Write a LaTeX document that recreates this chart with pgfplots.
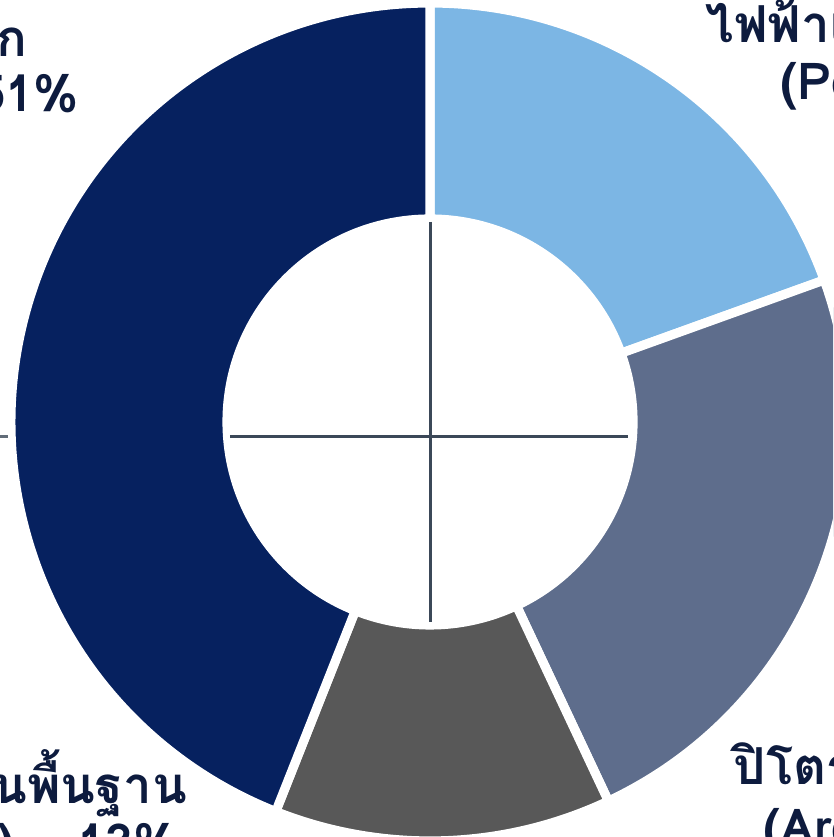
\documentclass[border=0pt]{standalone}
\usepackage{fontspec}
\newfontfamily\thaifont[Script=Thai]{Loma}
\usepackage{pgfplots}
\usepackage{pgfplotstable}
\pgfplotsset{compat=1.18}
\definecolor{cLB}{HTML}{7CB6E4}
\definecolor{cSL}{HTML}{5E6D8C}
\definecolor{cGR}{HTML}{585858}
\definecolor{cNV}{HTML}{06215F}
\definecolor{cTX}{HTML}{0D1B3E}
\definecolor{cLN}{HTML}{3B4858}
\pgfplotstableread{
name value col
power 19.5 cLB
aroma 23.5 cSL
base 13 cGR
main 44 cNV
}\donut
\begin{document}
\begin{tikzpicture}
\begin{axis}[at={(0,0)},anchor=south west,scale only axis,
  width=8.33cm,height=8.37cm,xmin=0,xmax=833,ymin=0,ymax=837,
  hide axis,clip=true]
\def\cx{430}\def\cy{415}
\def\Ro{4.19cm}\def\Ri{2.03cm}\def\Rd{2.16cm}
\def\startang{90}
\pgfplotstablegetrowsof{\donut}
\pgfmathtruncatemacro\N{\pgfplotsretval-1}
\pgfplotsforeachungrouped \i in {0,...,\N}{%
  \pgfplotstablegetelem{\i}{value}\of\donut \let\v\pgfplotsretval
  \pgfplotstablegetelem{\i}{col}\of\donut \let\c\pgfplotsretval
  \pgfmathsetmacro\endang{\startang-3.6*\v}%
  \edef\temp{\noexpand\filldraw[fill=\c,draw=white,line width=2.6pt,line join=miter]
    (axis cs:\cx,\cy) ++(\startang:\Ro)
    arc[start angle=\startang,end angle=\endang,radius=\Ro]
    -- ++(\endang:-\Rd)
    arc[start angle=\endang,end angle=\startang,radius=\Ri] -- cycle;}%
  \temp
  \global\let\startang\endang
}
\addplot[draw=cLN,line width=0.85pt,no markers] coordinates {(430,615) (430,215)};
\addplot[draw=cLN,line width=0.85pt,no markers] coordinates {(230,400) (628,400)};
\addplot[draw=cLN!80,line width=0.85pt,no markers] coordinates {(0,400) (8,400)};
\begin{scope}[every node/.style={font=\thaifont\bfseries\fontsize{14.5}{17}\selectfont,text=cTX,inner sep=0pt}]
\node[anchor=base east] at (axis cs:28,780) {พลังงานหลัก};
\node[anchor=base east] at (axis cs:80,725) {(Main) 51\%};
\node[anchor=base west] at (axis cs:705,794) {ไฟฟ้าและความร้อน};
\node[anchor=base west] at (axis cs:780,737) {(Power) 19\%};
\node[anchor=base east] at (axis cs:188,33) {น้ำมันหล่อลื่นพื้นฐาน};
\node[anchor=base east] at (axis cs:180,-23) {(Base Oil) – 13\%};
\node[anchor=base west] at (axis cs:733,52) {ปิโตรเคมี};
\node[anchor=base west] at (axis cs:763,-8) {(Aromatics) 24\%};
\end{scope}
\end{axis}
\pgfresetboundingbox
\useasboundingbox (0,0) rectangle (8.33cm,8.37cm);
\end{tikzpicture}
\end{document}
